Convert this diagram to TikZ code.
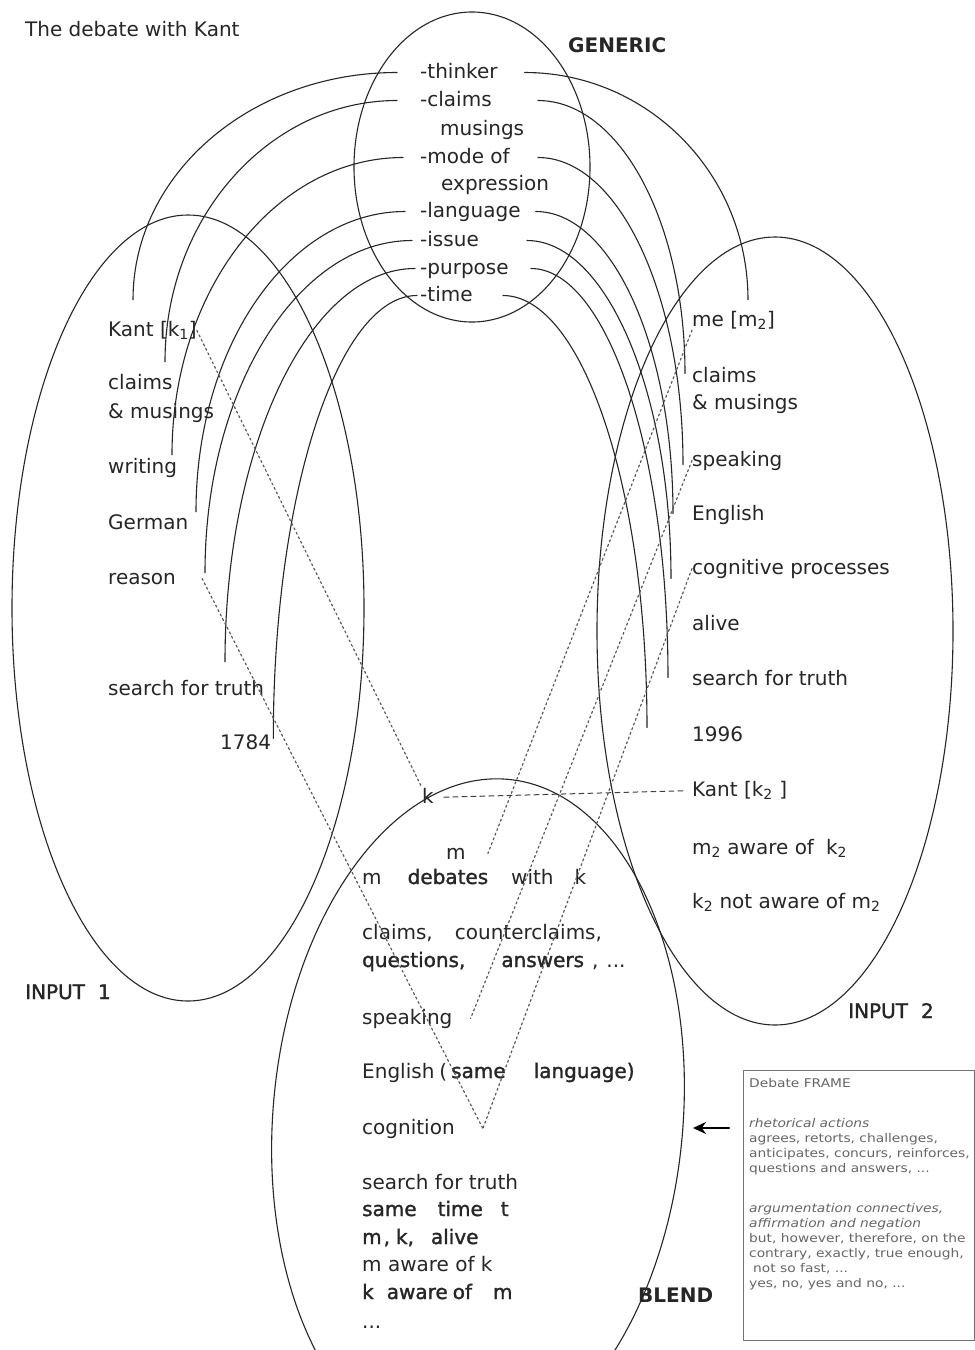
\documentclass[tikz,border=0pt]{standalone}
\usepackage{fontspec}
\setmainfont{DejaVu Sans}
\newfontfamily\fonce{DejaVu Sans}[FakeBold=1.5]
\newfontfamily\cadrefonte{DejaVu Sans}[FakeStretch=1.15]
\usetikzlibrary{arrows,arrows.meta}

\begin{document}
\begin{tikzpicture}[line cap=round,line join=round,>=triangle 45,x=1pt,y=-1pt,
	elt/.style={anchor=base west,inner sep=0pt,text height=15pt,text depth=4pt,text=black!85,font=\fontsize{20}{24}\selectfont},
	titre/.style={elt,font=\fontsize{20}{24}\selectfont\bfseries},
	fonce/.style={elt,font=\fonce\fontsize{20}{24}\selectfont},
	trait/.style={line width=1.1pt,draw=black!85},
	pointille/.style={line width=1.2pt,draw=black!65,dash pattern=on 2pt off 3pt},
	tirets/.style={line width=1pt,draw=black!75,dash pattern=on 5pt off 4pt}]
			\useasboundingbox (0,0) rectangle (975,1350);
			\fill[white] (0,0) rectangle (975,1350);
			%ellipses
			\draw[trait] (472,167) ellipse [x radius=118,y radius=155];
			\draw[trait] (188,608) ellipse [x radius=176,y radius=393];
			\draw[trait] (775,631) ellipse [x radius=178,y radius=394];
			\draw[trait,rotate around={-5:(478,1118)}] (478,1118) ellipse [x radius=205,y radius=340];
			%titre
			\node[elt] (heading) at (25,36) {The debate with Kant};
			%espace generique
			\node[titre] (generic) at (568,52) {GENERIC};
			\node[elt] (gThinker) at (420,78) {-thinker};
			\node[elt] (gClaims) at (420,106) {-claims};
			\node[elt] (gMusings) at (440,135) {musings};
			\node[elt] (gMode) at (420,163) {-mode of};
			\node[elt] (gExpr) at (441,190) {expression};
			\node[elt] (gLang) at (420,217) {-language};
			\node[elt] (gIssue) at (420,246) {-issue};
			\node[elt] (gPurpose) at (420,274) {-purpose};
			\node[elt] (gTime) at (420,301) {-time};
			%input 1
			\node[elt] (kantL) at (108,336) {Kant [k\textsubscript{1}]};
			\node[elt] (claimsL) at (108,389) {claims};
			\node[elt] (musingsL) at (108,418) {\& musings};
			\node[elt] (writingL) at (108,473) {writing};
			\node[elt] (germanL) at (108,529) {German};
			\node[elt] (reasonL) at (108,584) {reason};
			\node[elt] (truthL) at (108,695) {search for truth};
			\node[elt] (yearL) at (220,749) {1784};
			\node[fonce] (input1) at (25,999) {INPUT\hspace{13pt}1};
			%input 2
			\node[elt] (meR) at (692,326) {me [m\textsubscript{2}]};
			\node[elt] (claimsR) at (692,382) {claims};
			\node[elt] (musingsR) at (692,409) {\& musings};
			\node[elt] (speakR) at (692,466) {speaking};
			\node[elt] (englishR) at (692,520) {English};
			\node[elt] (cogR) at (692,574) {cognitive processes};
			\node[elt] (aliveR) at (692,630) {alive};
			\node[elt] (truthR) at (692,685) {search for truth};
			\node[elt] (yearR) at (692,741) {1996};
			\node[elt] (kantR) at (692,796) {Kant [k\textsubscript{2} ]};
			\node[elt] (awareR) at (692,854) {m\textsubscript{2} aware of\hspace{12pt}k\textsubscript{2}};
			\node[elt] (notawareR) at (692,908) {k\textsubscript{2} not aware of m\textsubscript{2}};
			\node[fonce] (input2) at (848,1018) {INPUT\hspace{13pt}2};
			%blend
			\node[elt] (bk) at (422,803) {k};
			\node[elt] (bm) at (446,859) {m};
			\node[elt] (bDebate) at (362,884) {m\hspace{26pt}{\fonce debates}\hspace{23pt}with\hspace{21pt}k};
			\node[elt] (bClaims) at (362,939) {claims,\hspace{22pt}counterclaims,};
			\node[elt] (bQuest) at (362,967) {{\fonce questions,}\hspace{36pt}{\fonce answers}\hspace{8pt},\hspace{8pt}...};
			\node[elt] (bSpeak) at (362,1024) {speaking};
			\node[elt] (bEnglish) at (362,1078) {English\hspace{5pt}(\hspace{4pt}{\fonce same}\hspace{28pt}{\fonce language)}};
			\node[elt] (bCogn) at (362,1134) {cognition};
			\node[elt] (bTruth) at (362,1189) {search for truth};
			\node[elt] (bSame) at (362,1216) {{\fonce same\hspace{21pt}time\hspace{18pt}t}};
			\node[elt] (bAlive) at (362,1244) {{\fonce m\hspace{2pt},\hspace{6pt}k,\hspace{17pt}alive}};
			\node[elt] (bAware) at (362,1271) {m aware of k};
			\node[elt] (bAwareK) at (362,1299) {{\fonce k\hspace{13pt}aware\hspace{5pt}of\hspace{21pt}m}};
			\node[elt] (bDots) at (362,1328) {...};
			\node[titre] (blend) at (638,1302) {BLEND};
			\coordinate (vtip) at ([xshift=28]bCogn.east);
			%arcs vers input 1
			\draw[trait] ([xshift=-23]gThinker.west) .. controls +(-146,0) and +(0,-126) .. ([shift={(25,-21)}]kantL.north west);
			\draw[trait] ([xshift=-23]gClaims.west) .. controls +(-128,0) and +(0,-144) .. ([shift={(57,-12)}]claimsL.north west);
			\draw[trait] ([xshift=-17]gMode.west) .. controls +(-128,0) and +(0,-164) .. ([shift={(64,-3)}]writingL.north west);
			\draw[trait] ([xshift=-15]gLang.west) .. controls +(-115,0) and +(0,-167) .. ([shift={(88,-2)}]germanL.north west);
			\draw[trait] ([xshift=-8]gIssue.west) .. controls +(-114,0) and +(0,-184) .. ([shift={(97,4)}]reasonL.north west);
			\draw[trait] ([xshift=-5]gPurpose.west) .. controls +(-105,0) and +(0,-217) .. ([shift={(117,-18)}]truthL.north west);
			\draw[trait] ([xshift=-3]gTime.west) .. controls +(-79,0) and +(0,-245) .. ([shift={(2,-5)}]yearL.east);
			%arcs vers input 2
			\draw[trait] ([xshift=27]gThinker.east) .. controls +(123,0) and +(0,-126) .. ([shift={(56,-11)}]meR.north west);
			\draw[trait] ([xshift=46]gClaims.east) .. controls +(82,0) and +(0,-151) .. ([shift={(-7,-3)}]claimsR.west);
			\draw[trait] ([xshift=28]gMode.east) .. controls +(81,0) and +(0,-169) .. ([shift={(-9,4)}]speakR.west);
			\draw[trait] ([xshift=15]gLang.east) .. controls +(76,0) and +(0,-167) .. ([shift={(-19,-1)}]englishR.west);
			\draw[trait] ([xshift=48]gIssue.east) .. controls +(79,0) and +(0,-187) .. ([shift={(-21,10)}]cogR.west);
			\draw[trait] ([xshift=22]gPurpose.east) .. controls +(76,0) and +(0,-226) .. ([shift={(-24,-2)}]truthR.west);
			\draw[trait] ([xshift=30]gTime.east) .. controls +(80,0) and +(0,-238) .. ([shift={(-45,-8)}]yearR.west);
			%projections vers le blend
			\draw[pointille] (kantL.east) -- (bk.north west);
			\draw[pointille] ([xshift=26]reasonL.east) -- (vtip);
			\draw[pointille] (meR.south west) -- ([xshift=22]bm.east);
			\draw[pointille] (speakR.west) -- ([xshift=18]bSpeak.east);
			\draw[pointille] (cogR.west) -- (vtip);
			\draw[tirets,shorten <=10pt,shorten >=6pt] (bk.east) -- (kantR.west);
			%cadre du debat
			\node[draw=black!55,line width=1.2pt,minimum width=231pt,minimum height=270pt,anchor=north west,inner sep=0pt] (frame) at (743,1070) {};
			\node[anchor=north west,inner sep=0pt,align=left,text=black!60,font=\cadrefonte\fontsize{12}{15}\selectfont] (frameText) at (749,1078) {Debate FRAME\\[25pt]
				\textit{rhetorical actions}\\
				agrees, retorts, challenges,\\
				anticipates, concurs, reinforces,\\
				questions and answers, ...\\[25pt]
				\textit{argumentation connectives,}\\
				\textit{affirmation and negation}\\
				but, however, therefore, on the\\
				contrary, exactly, true enough,\\
				\hspace{4pt}not so fast, ...\\
				yes, no, yes and no, ...};
			\coordinate (arrowStart) at ([shift={(-14,58)}]frame.north west);
			\coordinate (arrowEnd) at ([xshift=-36]arrowStart);
			\draw[-{Stealth[length=13pt,width=12pt]},line width=2.2pt] (arrowStart) -- (arrowEnd);
\end{tikzpicture}
\end{document}
